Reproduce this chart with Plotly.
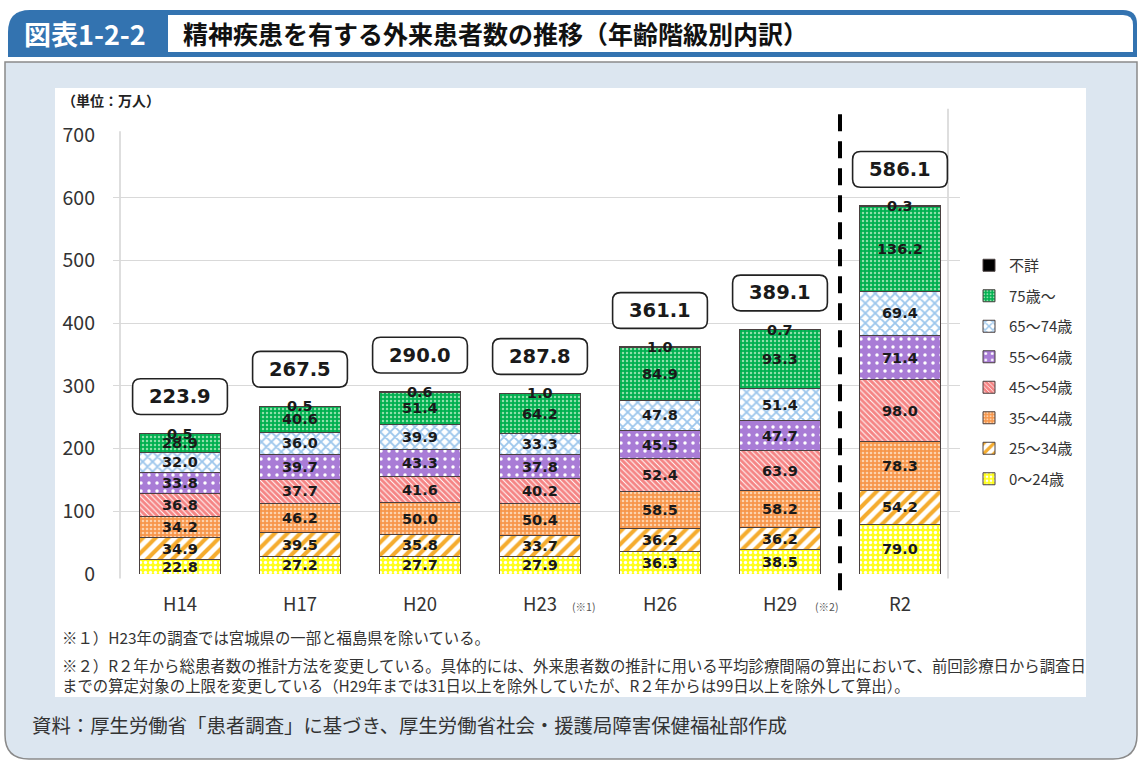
import plotly.graph_objects as go

# ---------------- data ----------------
years = ["H14", "H17", "H20", "H23", "H26", "H29", "R2"]
age_0_24 = [22.8, 27.2, 27.7, 27.9, 36.3, 38.5, 79.0]
age_25_34 = [34.9, 39.5, 35.8, 33.7, 36.2, 36.2, 54.2]
age_35_44 = [34.2, 46.2, 50.0, 50.4, 58.5, 58.2, 78.3]
age_45_54 = [36.8, 37.7, 41.6, 40.2, 52.4, 63.9, 98.0]
age_55_64 = [33.8, 39.7, 43.3, 37.8, 45.5, 47.7, 71.4]
age_65_74 = [32.0, 36.0, 39.9, 33.3, 47.8, 51.4, 69.4]
age_75_up = [28.9, 40.6, 51.4, 64.2, 84.9, 93.3, 136.2]
age_unknown = [0.5, 0.5, 0.6, 1.0, 1.0, 0.7, 0.3]
totals = [223.9, 267.5, 290.0, 287.8, 361.1, 389.1, 586.1]
series_names = ["0～24歳", "25～34歳", "35～44歳", "45～54歳", "55～64歳", "65～74歳", "75歳～", "不詳"]
y_ticks = [0, 100, 200, 300, 400, 500, 600, 700]

series_values = [age_0_24, age_25_34, age_35_44, age_45_54, age_55_64, age_65_74, age_75_up, age_unknown]

# ---------------- styles ----------------
W, H = 1142, 766
PL, PR, PT, PB = 113, 960, 135, 574  # plot area in px
XMIN, XMAX = -0.5583, 6.5
YMIN, YMAX = 0, 700
JP = "Noto Sans CJK JP"
NUM = "DejaVu Sans"

styles = [
    dict(bg="#ffff1a", fg="#ffffff", shape=".", size=5, sol=0.35),
    dict(bg="#ffffff", fg="#f5ac2e", shape="/", size=9, sol=0.45),
    dict(bg="#f7964a", fg="#fcd2ad", shape=".", size=4, sol=0.35),
    dict(bg="#f58484", fg="#ffffff", shape="\\", size=4, sol=0.25),
    dict(bg="#a97cd6", fg="#ffffff", shape=".", size=8, sol=0.15),
    dict(bg="#ffffff", fg="#9cc6ec", shape="x", size=7, sol=0.45),
    dict(bg="#00b050", fg="#8ee0aa", shape=".", size=4, sol=0.3),
    dict(bg="#000000", fg="#000000", shape="", size=8, sol=0.3),
]

xs = list(range(len(years)))
fig = go.Figure()
for k, (name, vals) in enumerate(zip(series_names, series_values)):
    st = styles[k]
    fig.add_trace(go.Bar(
        x=xs, y=vals, name=name, legendgroup=name,
        legendrank=100 * (len(series_names) - k),
        width=0.667,
        marker=dict(
            color=st["bg"],
            line=dict(color="#4a4040", width=1),
            pattern=dict(shape=st["shape"], fgcolor=st["fg"], bgcolor=st["bg"],
                         size=st["size"], solidity=st["sol"], fillmode="replace"),
        ),
        hoverinfo="skip",
    ))

def px2paper(x, y):
    return (x - PL) / (PR - PL), (PB - y) / (PB - PT)

def dx2paper(x):
    return (x - XMIN) / (XMAX - XMIN)

def dy2paper(y):
    return (y - YMIN) / (YMAX - YMIN)

shapes = []
annotations = []

def paper_rounded(x0, y0, x1, y1, rtl, rtr, rbr, rbl):
    sx = 1.0 / (PR - PL)
    sy = 1.0 / (PB - PT)
    def P(x, y):
        return f"{(x-PL)*sx:.5f},{(PB-y)*sy:.5f}"
    p = f"M{P(x0+rtl,y0)} L{P(x1-rtr,y0)} "
    if rtr: p += f"Q{P(x1,y0)} {P(x1,y0+rtr)} "
    p += f"L{P(x1,y1-rbr)} "
    if rbr: p += f"Q{P(x1,y1)} {P(x1-rbr,y1)} "
    p += f"L{P(x0+rbl,y1)} "
    if rbl: p += f"Q{P(x0,y1)} {P(x0,y1-rbl)} "
    p += f"L{P(x0,y0+rtl)} "
    if rtl: p += f"Q{P(x0,y0)} {P(x0+rtl,y0)} "
    return p + "Z"

# header
shapes.append(dict(type="path", xref="paper", yref="paper", layer="below",
                   path=paper_rounded(8, 10, 1137, 57, 22, 14, 0, 0),
                   fillcolor="#3373b0", line=dict(width=0)))
shapes.append(dict(type="path", xref="paper", yref="paper", layer="below",
                   path=paper_rounded(168, 15, 1133, 52, 0, 10, 0, 0),
                   fillcolor="#ffffff", line=dict(width=0)))
# panel
shapes.append(dict(type="path", xref="paper", yref="paper", layer="below",
                   path=paper_rounded(5, 62, 1137, 759, 0, 0, 24, 24),
                   fillcolor="#dce6f0", line=dict(color="#8a8a8a", width=1.5)))
# white chart area
x0p, y0p = px2paper(55, 88)
x1p, y1p = px2paper(1086, 697)
shapes.append(dict(type="rect", xref="paper", yref="paper", layer="below",
                   x0=x0p, x1=x1p, y0=y1p, y1=y0p,
                   fillcolor="#ffffff", line=dict(width=0)))

# axis frame lines (paper coords so they may extend beyond the plot area)
shapes.append(dict(type="line", xref="paper", yref="paper",
                   x0=dx2paper(-0.5), x1=dx2paper(-0.5), y0=dy2paper(-7), y1=dy2paper(706),
                   line=dict(color="#c8c8c8", width=1.2), layer="below"))
shapes.append(dict(type="line", xref="paper", yref="paper",
                   x0=dx2paper(6.4), x1=dx2paper(6.4), y0=dy2paper(-7), y1=dy2paper(742),
                   line=dict(color="#c8c8c8", width=1.2), layer="below"))

# dashed divider between H29 and R2
shapes.append(dict(type="line", xref="paper", yref="paper",
                   x0=dx2paper(5.5), x1=dx2paper(5.5), y0=dy2paper(-26), y1=dy2paper(737),
                   line=dict(color="#000000", width=4, dash="17px,10px")))

# segment labels
for i in xs:
    base = 0.0
    for k, vals in enumerate(series_values):
        v = vals[i]
        annotations.append(dict(
            x=i, y=base + v / 2, xref="x", yref="y", text=f"{v:.1f}", showarrow=False,
            font=dict(family=NUM, size=14.5, color="#1a1a1a", weight="bold"),
        ))
        base += v

# total boxes
rx, ry = 8 / 120, 8 / ((PB - PT) / 700)
for i in xs:
    c = totals[i] + 59
    hx, hy = 0.395, 28.5
    shapes.append(dict(type="path", xref="x", yref="y",
                       path=f"M{i-hx+rx},{c+hy} L{i+hx-rx},{c+hy} Q{i+hx},{c+hy} {i+hx},{c+hy-ry} "
                            f"L{i+hx},{c-hy+ry} Q{i+hx},{c-hy} {i+hx-rx},{c-hy} "
                            f"L{i-hx+rx},{c-hy} Q{i-hx},{c-hy} {i-hx},{c-hy+ry} "
                            f"L{i-hx},{c+hy-ry} Q{i-hx},{c+hy} {i-hx+rx},{c+hy} Z",
                       fillcolor="#ffffff", line=dict(color="#222222", width=1.6)))
    annotations.append(dict(x=i, y=c, xref="x", yref="y", text=f"{totals[i]:.1f}",
                            showarrow=False,
                            font=dict(family=NUM, size=19.5, color="#1a1a1a", weight="bold")))

# note markers on x-axis
for xv, txt in [(3.36, "(※1)"), (5.5, "(※2)")]:
    annotations.append(dict(x=dx2paper(xv), y=px2paper(0, 606)[1], xref="paper", yref="paper",
                            text=txt, showarrow=False, yanchor="middle",
                            font=dict(family=JP, size=10.5, color="#555555")))

def pann(x, y, text, size, color="#222222", family=JP, weight="normal", xanchor="left",
         yanchor="middle"):
    xp, yp = px2paper(x, y)
    annotations.append(dict(x=xp, y=yp, xref="paper", yref="paper", text=text,
                            showarrow=False, xanchor=xanchor, yanchor=yanchor, align="left",
                            font=dict(family=family, size=size, color=color, weight=weight)))

pann(22, 33, "図表1-2-2", 27, color="#ffffff", weight="bold")
pann(181, 33, "精神疾患を有する外来患者数の推移（年齢階級別内訳）", 25, color="#111111", weight="bold")
pann(60, 100, "（単位：万人）", 14, color="#222222", weight="bold")
pann(60, 637, "※１）H23年の調査では宮城県の一部と福島県を除いている。", 15.4, color="#333333")
pann(60, 674.5,
     "※２）R２年から総患者数の推計方法を変更している。具体的には、外来患者数の推計に用いる平均診療間隔の算出において、前回診療日から調査日"
     "<br>までの算定対象の上限を変更している（H29年までは31日以上を除外していたが、R２年からは99日以上を除外して算出）。",
     15.4, color="#333333")
pann(30, 724, "資料：厚生労働省「患者調査」に基づき、厚生労働省社会・援護局障害保健福祉部作成", 19.4, color="#333333")

lx, ly = px2paper(969, 249)

fig.update_layout(
    width=W, height=H, autosize=False,
    margin=dict(l=PL, r=W - PR, t=PT, b=H - PB, pad=0),
    paper_bgcolor="#ffffff", plot_bgcolor="rgba(0,0,0,0)",
    barmode="stack",
    showlegend=True,
    legend=dict(x=lx, y=ly, xanchor="left", yanchor="top", traceorder="grouped",
                tracegroupgap=8, font=dict(family=JP, size=15, color="#333333"),
                bgcolor="rgba(0,0,0,0)", itemwidth=30),
    xaxis=dict(range=[XMIN, XMAX], tickvals=xs, ticktext=years, showgrid=False,
               zeroline=False, showline=False, ticks="", ticklabelstandoff=17,
               tickfont=dict(family=JP, size=18.5, color="#333333"), fixedrange=True),
    yaxis=dict(range=[YMIN, YMAX], tickvals=y_ticks, showgrid=True, gridcolor="#d9d9d9",
               gridwidth=1, zeroline=False, showline=False, ticks="", ticklabelstandoff=17,
               tickfont=dict(family=JP, size=19.5, color="#333333"), fixedrange=True),
    shapes=shapes, annotations=annotations,
)

fig.write_html("out.html", config={"displayModeBar": False},
               post_script="document.body.style.margin='0';")
